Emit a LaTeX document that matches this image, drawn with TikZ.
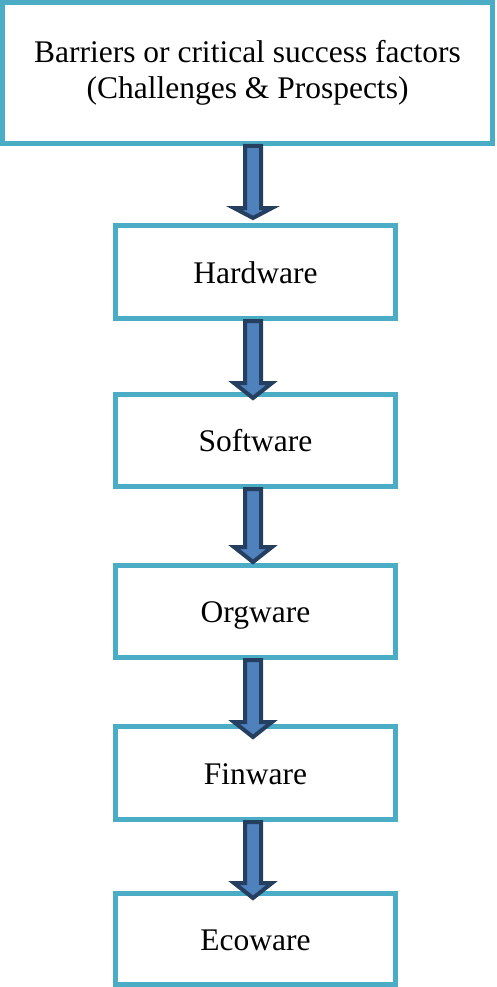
\documentclass[tikz,border=0pt]{standalone}
\usepackage{fontspec}
\setmainfont{Liberation Serif}
\usetikzlibrary{calc}
\definecolor{boxline}{HTML}{4BACC6}
\definecolor{arrfill}{HTML}{4F81BD}
\definecolor{arrline}{HTML}{243F60}
\tikzset{
  stagebox/.style={draw=boxline, line width=5pt, fill=white, minimum width=280pt, minimum height=92pt, inner sep=0pt,
    font=\fontsize{31.5}{36}\selectfont, text height=22pt, text depth=0pt},
  topbox/.style={draw=boxline, line width=5pt, fill=white, minimum width=490pt, minimum height=141pt, inner sep=0pt,
    font=\fontsize{31.5}{36}\selectfont, align=center},
  blockarrow/.style={draw=arrline, fill=arrfill, line width=4pt, line join=miter}
}
% #1 source node, #2 target node, #3 head length, #4 tip offset (down, pt)
\newcommand\blockarr[4]{%
  \coordinate (s) at (#2.north |- #1.south);
  \draw[blockarrow] ($(s)+(-10.5,0)$) -- ($(#2.north)+(-10.5,#4-#3)$) -- ($(#2.north)+(-21.5,#4-#3)$)
    -- ($(#2.north)+(-2.5,#4)$) -- ($(#2.north)+(16.5,#4-#3)$) -- ($(#2.north)+(5.5,#4-#3)$)
    -- ($(s)+(5.5,0)$) -- cycle;}
\begin{document}
\begin{tikzpicture}[x=1pt,y=-1pt]
\useasboundingbox (0,0) rectangle (496,987);
\node[topbox] (top) at (247.5,73) {\raisebox{-2pt}{\parbox{480pt}{\centering Barriers or critical success factors\\(Challenges \& Prospects)}}};
\node[stagebox, minimum height=93pt] (hw) at (255.5,272) {Hardware};
\node[stagebox] (sw) at (255.5,440.5) {Software};
\node[stagebox] (ow) at (255.5,611.5) {Orgware};
\node[stagebox, minimum height=93pt] (fw) at (255.5,773) {Finware};
\node[stagebox, minimum height=91pt] (ew) at (255.5,939) {Ecoware};
\blockarr{top}{hw}{10}{-5}
\blockarr{hw}{sw}{15}{6}
\blockarr{sw}{ow}{15}{-1}
\blockarr{ow}{fw}{15}{13}
\blockarr{fw}{ew}{15}{7}
\end{tikzpicture}
\end{document}
